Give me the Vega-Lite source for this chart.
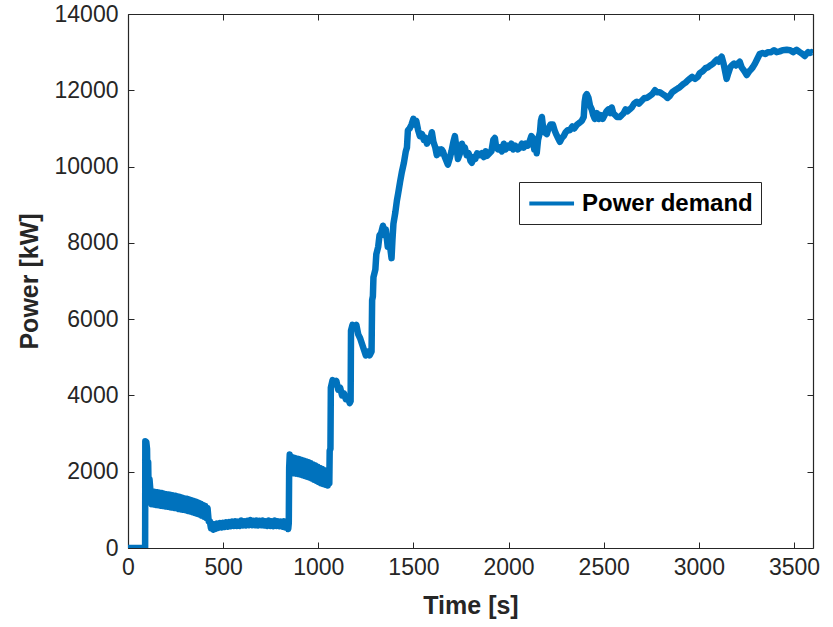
{
  "$schema": "https://vega.github.io/schema/vega-lite/v6.json",
  "width": 685,
  "height": 534,
  "autosize": {"type": "none"},
  "padding": {"left": 128, "top": 14, "right": 20, "bottom": 79},
  "background": "white",
  "config": {"view": {"stroke": null}, "font": "Liberation Sans"},
  "data": {"values": [
    {"t":0,"p":0},{"t":85,"p":0},{"t":90,"p":0},{"t":91,"p":2800},{"t":96,"p":2780},{"t":100,"p":2600},{"t":103,"p":1400},{"t":106,"p":2250},{"t":109,"p":1250},{"t":113,"p":1800},
    {"t":118,"p":1490},{"t":124,"p":1150},{"t":130,"p":1480},{"t":136,"p":1140},{"t":142,"p":1470},{"t":148,"p":1130},{"t":154,"p":1460},{"t":160,"p":1120},{"t":166,"p":1450},{"t":172,"p":1110},{"t":178,"p":1440},{"t":184,"p":1100},{"t":190,"p":1420},{"t":196,"p":1090},{"t":202,"p":1410},{"t":208,"p":1080},{"t":214,"p":1400},{"t":220,"p":1070},{"t":226,"p":1390},{"t":232,"p":1060},{"t":238,"p":1380},{"t":244,"p":1050},{"t":250,"p":1370},{"t":256,"p":1040},{"t":262,"p":1350},{"t":268,"p":1020},{"t":274,"p":1340},{"t":280,"p":1010},{"t":286,"p":1320},{"t":292,"p":1000},{"t":298,"p":1300},{"t":304,"p":990},{"t":310,"p":1290},{"t":316,"p":970},{"t":322,"p":1270},{"t":328,"p":960},{"t":334,"p":1250},{"t":340,"p":940},{"t":346,"p":1230},{"t":352,"p":920},{"t":358,"p":1210},{"t":364,"p":900},{"t":370,"p":1190},{"t":376,"p":880},{"t":382,"p":1160},{"t":388,"p":850},{"t":394,"p":1130},{"t":400,"p":820},{"t":406,"p":1100},{"t":412,"p":790},{"t":418,"p":1050},{"t":424,"p":700},
    {"t":430,"p":700},{"t":436,"p":520},{"t":442,"p":640},{"t":448,"p":480},{"t":454,"p":620},{"t":460,"p":500},{"t":468,"p":640},{"t":476,"p":530},{"t":484,"p":650},{"t":492,"p":540},{"t":500,"p":660},{"t":508,"p":550},{"t":516,"p":670},{"t":524,"p":560},{"t":532,"p":680},{"t":540,"p":570},{"t":548,"p":690},{"t":556,"p":580},{"t":564,"p":700},{"t":572,"p":580},{"t":580,"p":690},{"t":588,"p":580},{"t":596,"p":720},{"t":604,"p":590},{"t":612,"p":700},{"t":620,"p":590},{"t":628,"p":710},{"t":636,"p":600},{"t":644,"p":730},{"t":652,"p":600},{"t":660,"p":710},{"t":668,"p":600},{"t":676,"p":720},{"t":684,"p":590},{"t":692,"p":710},{"t":700,"p":600},{"t":708,"p":720},{"t":716,"p":590},{"t":724,"p":700},{"t":732,"p":580},{"t":740,"p":720},{"t":748,"p":580},{"t":756,"p":700},{"t":764,"p":570},{"t":772,"p":720},{"t":780,"p":580},{"t":788,"p":700},{"t":796,"p":570},{"t":804,"p":690},{"t":812,"p":560},{"t":820,"p":700},{"t":828,"p":540},{"t":836,"p":680},{"t":842,"p":500},
    {"t":845,"p":650},{"t":847,"p":2100},{"t":850,"p":2450},{"t":854,"p":2350},{"t":858,"p":1950},{"t":864,"p":2380},{"t":870,"p":1960},{"t":876,"p":2360},{"t":882,"p":1950},{"t":888,"p":2340},{"t":894,"p":1940},{"t":900,"p":2330},{"t":906,"p":1930},{"t":912,"p":2310},{"t":918,"p":1910},{"t":924,"p":2290},{"t":930,"p":1890},{"t":936,"p":2270},{"t":942,"p":1870},{"t":948,"p":2250},{"t":954,"p":1850},{"t":960,"p":2220},{"t":966,"p":1820},{"t":972,"p":2190},{"t":978,"p":1790},{"t":984,"p":2160},{"t":990,"p":1760},{"t":996,"p":2130},{"t":1002,"p":1730},{"t":1008,"p":2100},{"t":1014,"p":1700},{"t":1020,"p":2070},{"t":1026,"p":1680},{"t":1032,"p":2040},{"t":1038,"p":1660},{"t":1044,"p":2000},{"t":1050,"p":1640},{"t":1055,"p":1800},
    {"t":1058,"p":1700},{"t":1060,"p":2550},{"t":1064,"p":2600},{"t":1066,"p":4200},{"t":1075,"p":4400},{"t":1085,"p":4300},{"t":1095,"p":4380},{"t":1105,"p":4150},{"t":1115,"p":4200},{"t":1125,"p":4000},{"t":1135,"p":4050},{"t":1145,"p":3900},{"t":1155,"p":3950},{"t":1165,"p":3800},{"t":1170,"p":3850},
    {"t":1172,"p":5700},{"t":1180,"p":5850},{"t":1190,"p":5780},{"t":1200,"p":5850},{"t":1210,"p":5600},{"t":1220,"p":5500},{"t":1230,"p":5350},{"t":1240,"p":5200},{"t":1250,"p":5050},{"t":1260,"p":5150},{"t":1270,"p":5050},{"t":1280,"p":5150},
    {"t":1283,"p":6500},{"t":1287,"p":6600},{"t":1290,"p":7100},{"t":1300,"p":7300},{"t":1305,"p":7700},{"t":1315,"p":7900},{"t":1322,"p":8200},{"t":1330,"p":8250},{"t":1340,"p":8450},{"t":1348,"p":8200},{"t":1355,"p":8350},{"t":1365,"p":7900},{"t":1375,"p":8000},{"t":1385,"p":7600},{"t":1390,"p":8100},{"t":1395,"p":8500},{"t":1405,"p":8800},{"t":1413,"p":9100},{"t":1420,"p":9300},{"t":1430,"p":9600},{"t":1439,"p":9850},{"t":1450,"p":10100},{"t":1460,"p":10400},{"t":1466,"p":10500},{"t":1471,"p":10950},{"t":1480,"p":11000},{"t":1490,"p":11100},{"t":1500,"p":11250},{"t":1508,"p":11100},{"t":1515,"p":11200},{"t":1525,"p":10950},{"t":1534,"p":10800},{"t":1545,"p":10850},{"t":1555,"p":10700},{"t":1565,"p":10750},{"t":1571,"p":10600},{"t":1580,"p":10700},{"t":1590,"p":10750},{"t":1597,"p":10900},{"t":1605,"p":10650},{"t":1615,"p":10500},{"t":1623,"p":10300},{"t":1632,"p":10450},{"t":1640,"p":10350},{"t":1648,"p":10450},{"t":1655,"p":10400},{"t":1665,"p":10250},{"t":1673,"p":10150},{"t":1681,"p":10050},{"t":1690,"p":10200},{"t":1700,"p":10400},{"t":1710,"p":10650},{"t":1718,"p":10800},{"t":1726,"p":10500},{"t":1734,"p":10200},{"t":1745,"p":10350},{"t":1755,"p":10600},{"t":1762,"p":10450},{"t":1770,"p":10500},{"t":1780,"p":10300},{"t":1790,"p":10350},{"t":1800,"p":10150},{"t":1807,"p":10100},{"t":1815,"p":10250},{"t":1825,"p":10200},{"t":1835,"p":10350},{"t":1849,"p":10300},{"t":1860,"p":10350},{"t":1870,"p":10250},{"t":1880,"p":10400},{"t":1886,"p":10280},{"t":1900,"p":10350},{"t":1910,"p":10400},{"t":1920,"p":10700},{"t":1928,"p":10750},{"t":1935,"p":10500},{"t":1945,"p":10450},{"t":1954,"p":10500},{"t":1965,"p":10400},{"t":1975,"p":10600},{"t":1985,"p":10450},{"t":1995,"p":10550},{"t":2007,"p":10500},{"t":2015,"p":10600},{"t":2025,"p":10450},{"t":2035,"p":10550},{"t":2049,"p":10450},{"t":2060,"p":10500},{"t":2070,"p":10600},{"t":2080,"p":10500},{"t":2090,"p":10600},{"t":2101,"p":10550},{"t":2110,"p":10650},{"t":2120,"p":10800},{"t":2127,"p":10750},{"t":2135,"p":10450},{"t":2142,"p":10600},{"t":2148,"p":10350},{"t":2155,"p":10700},{"t":2165,"p":10900},{"t":2170,"p":11200},{"t":2175,"p":11300},{"t":2182,"p":11000},{"t":2190,"p":10900},{"t":2201,"p":10850},{"t":2210,"p":11000},{"t":2220,"p":11100},{"t":2233,"p":11100},{"t":2242,"p":10950},{"t":2250,"p":10850},{"t":2260,"p":10750},{"t":2270,"p":10650},{"t":2280,"p":10750},{"t":2290,"p":10800},{"t":2300,"p":10900},{"t":2310,"p":10950},{"t":2322,"p":10950},{"t":2335,"p":11050},{"t":2345,"p":11000},{"t":2360,"p":11100},{"t":2374,"p":11150},{"t":2385,"p":11200},{"t":2395,"p":11300},{"t":2400,"p":11700},{"t":2405,"p":11850},{"t":2411,"p":11900},{"t":2420,"p":11800},{"t":2428,"p":11600},{"t":2437,"p":11500},{"t":2445,"p":11350},{"t":2453,"p":11250},{"t":2465,"p":11400},{"t":2475,"p":11250},{"t":2485,"p":11350},{"t":2495,"p":11250},{"t":2505,"p":11350},{"t":2515,"p":11450},{"t":2525,"p":11500},{"t":2535,"p":11400},{"t":2542,"p":11550},{"t":2550,"p":11400},{"t":2560,"p":11350},{"t":2570,"p":11300},{"t":2584,"p":11300},{"t":2595,"p":11350},{"t":2605,"p":11400},{"t":2615,"p":11500},{"t":2625,"p":11450},{"t":2637,"p":11500},{"t":2648,"p":11550},{"t":2660,"p":11650},{"t":2674,"p":11700},{"t":2685,"p":11650},{"t":2695,"p":11700},{"t":2705,"p":11750},{"t":2715,"p":11800},{"t":2726,"p":11800},{"t":2742,"p":11850},{"t":2755,"p":11900},{"t":2770,"p":12000},{"t":2780,"p":11950},{"t":2795,"p":11950},{"t":2810,"p":11900},{"t":2825,"p":11850},{"t":2835,"p":11800},{"t":2847,"p":11850},{"t":2860,"p":11950},{"t":2875,"p":12000},{"t":2890,"p":12050},{"t":2900,"p":12080},{"t":2915,"p":12150},{"t":2930,"p":12200},{"t":2940,"p":12250},{"t":2952,"p":12300},{"t":2965,"p":12350},{"t":2980,"p":12300},{"t":2994,"p":12350},{"t":3005,"p":12450},{"t":3020,"p":12500},{"t":3035,"p":12580},{"t":3047,"p":12600},{"t":3060,"p":12650},{"t":3075,"p":12700},{"t":3084,"p":12750},{"t":3095,"p":12800},{"t":3105,"p":12750},{"t":3115,"p":12850},{"t":3120,"p":12880},{"t":3130,"p":12700},{"t":3140,"p":12450},{"t":3146,"p":12300},{"t":3155,"p":12450},{"t":3165,"p":12600},{"t":3173,"p":12650},{"t":3185,"p":12700},{"t":3195,"p":12650},{"t":3205,"p":12700},{"t":3215,"p":12750},{"t":3225,"p":12600},{"t":3240,"p":12500},{"t":3252,"p":12400},{"t":3265,"p":12500},{"t":3275,"p":12550},{"t":3283,"p":12600},{"t":3295,"p":12700},{"t":3305,"p":12800},{"t":3320,"p":12950},{"t":3335,"p":12980},{"t":3350,"p":12950},{"t":3362,"p":13000},{"t":3380,"p":13000},{"t":3395,"p":13050},{"t":3409,"p":13000},{"t":3425,"p":13020},{"t":3440,"p":13050},{"t":3462,"p":13060},{"t":3480,"p":13050},{"t":3495,"p":13000},{"t":3514,"p":13060},{"t":3530,"p":13000},{"t":3545,"p":12950},{"t":3556,"p":12900},{"t":3565,"p":12950},{"t":3575,"p":13000},{"t":3585,"p":12980},{"t":3593,"p":13000},{"t":3600,"p":12980}
  ]},
  "layer": [
    {
      "mark": {"type": "line", "strokeWidth": 6.5, "strokeJoin": "round", "clip": true},
      "encoding": {
        "x": {"field": "t", "type": "quantitative", "scale": {"domain": [0, 3600], "nice": false},
          "axis": {"orient": "bottom", "values": [0,500,1000,1500,2000,2500,3000,3500], "format": "d", "labelFlush": false, "grid": false, "tickSize": -6, "tickColor": "#262626", "domainColor": "#262626", "domainWidth": 1.2, "labelPadding": 14, "labelFontSize": 23, "labelColor": "#262626", "labelFont": "Liberation Sans", "title": "Time [s]", "titleFontSize": 25, "titleFontWeight": "bold", "titleColor": "#262626", "titleFont": "Liberation Sans", "titlePadding": 14}},
        "y": {"field": "p", "type": "quantitative", "scale": {"domain": [0, 14000], "nice": false},
          "axis": {"orient": "left", "values": [0,2000,4000,6000,8000,10000,12000,14000], "format": "d", "labelFlush": false, "grid": false, "tickSize": -6, "tickColor": "#262626", "domainColor": "#262626", "domainWidth": 1.2, "labelPadding": 16, "labelFontSize": 23, "labelColor": "#262626", "labelFont": "Liberation Sans", "title": "Power [kW]", "titleFontSize": 25, "titleFontWeight": "bold", "titleColor": "#262626", "titleFont": "Liberation Sans", "titlePadding": 12}},
        "color": {"datum": "Power demand", "type": "nominal", "scale": {"range": ["#0072BD"]},
          "legend": {"orient": "none", "legendX": 391, "legendY": 168, "title": null, "symbolType": "M-1,0H3", "symbolStrokeWidth": 4, "symbolSize": 500, "labelFontSize": 24, "labelFontWeight": "bold", "labelColor": "#000000", "labelFont": "Liberation Sans", "labelOffset": 28, "labelLimit": 0, "strokeColor": "#262626", "fillColor": "white", "padding": 8}}
      }
    },
    {
      "mark": {"type": "point", "opacity": 0},
      "encoding": {
        "x": {"field": "t", "type": "quantitative", "scale": {"domain": [0, 3600], "nice": false},
          "axis": {"orient": "top", "values": [0,500,1000,1500,2000,2500,3000,3500], "grid": false, "labels": false, "title": null, "tickSize": -6, "tickColor": "#262626", "domainColor": "#262626", "domainWidth": 1.2}},
        "y": {"field": "p", "type": "quantitative", "scale": {"domain": [0, 14000], "nice": false},
          "axis": {"orient": "right", "values": [0,2000,4000,6000,8000,10000,12000,14000], "grid": false, "labels": false, "title": null, "tickSize": -6, "tickColor": "#262626", "domainColor": "#262626", "domainWidth": 1.2}}
      }
    }
  ],
  "resolve": {"axis": {"x": "independent", "y": "independent"}}
}
